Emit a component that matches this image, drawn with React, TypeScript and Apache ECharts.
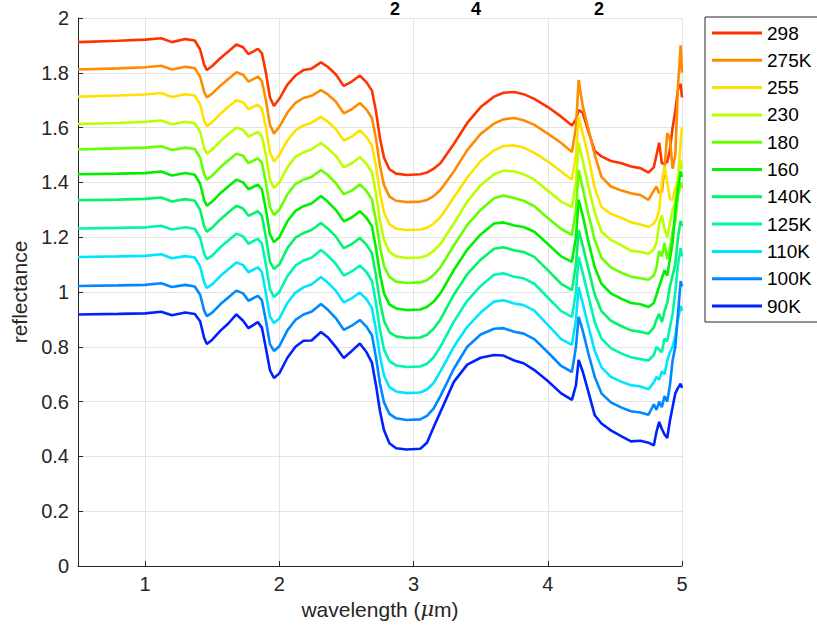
import React, { useEffect, useRef } from "react";
import * as echarts from "echarts";

const wavelength = [
  0.5, 0.8, 1.0, 1.12, 1.2, 1.3, 1.37, 1.41, 1.44, 1.46,
  1.5, 1.56, 1.62, 1.68, 1.73, 1.77, 1.84, 1.87, 1.9, 1.93,
  1.96, 2.0, 2.06, 2.12, 2.18, 2.24, 2.31, 2.36, 2.42, 2.48,
  2.54, 2.6, 2.65, 2.69, 2.72, 2.75, 2.78, 2.82, 2.87, 2.95,
  3.05, 3.1, 3.15, 3.2, 3.3, 3.4, 3.5, 3.6, 3.67, 3.75,
  3.82, 3.9, 4.0, 4.1, 4.18, 4.21, 4.23, 4.26, 4.3, 4.35,
  4.4, 4.47, 4.55, 4.62, 4.69, 4.75, 4.79, 4.81, 4.83, 4.85,
  4.87, 4.89, 4.91, 4.93, 4.95, 4.97, 4.99, 5.0,
];

const r298 = [
  1.912, 1.917, 1.921, 1.926, 1.912, 1.923, 1.918, 1.885, 1.83, 1.81,
  1.825, 1.853, 1.878, 1.903, 1.893, 1.868, 1.887, 1.872, 1.8, 1.71,
  1.679, 1.705, 1.757, 1.79, 1.81, 1.815, 1.838, 1.822, 1.795, 1.752,
  1.768, 1.79, 1.765, 1.735, 1.66, 1.56, 1.49, 1.448, 1.432, 1.427,
  1.43, 1.436, 1.45, 1.47, 1.54, 1.617, 1.675, 1.713, 1.727, 1.73,
  1.722, 1.705, 1.675, 1.64, 1.608, 1.63, 1.664, 1.655, 1.59, 1.515,
  1.495, 1.478, 1.47, 1.458, 1.452, 1.436, 1.455, 1.5, 1.545, 1.47,
  1.468, 1.475, 1.52, 1.6, 1.66, 1.74, 1.76, 1.71,
];
const r275 = [
  1.812, 1.816, 1.82, 1.826, 1.812, 1.822, 1.817, 1.785, 1.73, 1.71,
  1.724, 1.753, 1.777, 1.802, 1.793, 1.768, 1.786, 1.77, 1.7, 1.61,
  1.578, 1.603, 1.655, 1.69, 1.708, 1.716, 1.737, 1.722, 1.695, 1.652,
  1.667, 1.69, 1.665, 1.635, 1.56, 1.46, 1.39, 1.348, 1.333, 1.328,
  1.33, 1.336, 1.35, 1.372, 1.44, 1.518, 1.577, 1.615, 1.63, 1.635,
  1.627, 1.61, 1.578, 1.544, 1.511, 1.6, 1.774, 1.68, 1.6, 1.5,
  1.42, 1.385, 1.37, 1.36, 1.354, 1.336, 1.37, 1.385, 1.36, 1.365,
  1.45, 1.58, 1.56, 1.45, 1.5, 1.75, 1.9, 1.8,
];
const r255 = [
  1.713, 1.717, 1.721, 1.726, 1.712, 1.722, 1.717, 1.685, 1.625, 1.605,
  1.62, 1.65, 1.676, 1.7, 1.692, 1.667, 1.684, 1.668, 1.6, 1.51,
  1.476, 1.5, 1.553, 1.59, 1.608, 1.618, 1.639, 1.622, 1.595, 1.553,
  1.567, 1.59, 1.565, 1.535, 1.46, 1.36, 1.29, 1.247, 1.231, 1.226,
  1.228, 1.234, 1.25, 1.273, 1.345, 1.418, 1.478, 1.517, 1.533, 1.535,
  1.527, 1.508, 1.477, 1.44, 1.41, 1.5, 1.638, 1.58, 1.5, 1.38,
  1.31, 1.285, 1.27, 1.255, 1.246, 1.237, 1.25, 1.265, 1.3, 1.4,
  1.46, 1.4, 1.34, 1.336, 1.38, 1.41, 1.55, 1.6,
];
const r230 = [
  1.613, 1.617, 1.621, 1.626, 1.612, 1.621, 1.616, 1.585, 1.525, 1.505,
  1.52, 1.55, 1.576, 1.6, 1.592, 1.567, 1.584, 1.568, 1.5, 1.41,
  1.38, 1.4, 1.455, 1.493, 1.51, 1.52, 1.544, 1.525, 1.497, 1.455,
  1.47, 1.492, 1.467, 1.437, 1.36, 1.26, 1.19, 1.146, 1.13, 1.124,
  1.126, 1.133, 1.15, 1.175, 1.25, 1.33, 1.39, 1.43, 1.443, 1.44,
  1.43, 1.41, 1.37, 1.33, 1.31, 1.4, 1.545, 1.48, 1.39, 1.29,
  1.22, 1.19, 1.17, 1.15, 1.147, 1.14, 1.155, 1.18, 1.25, 1.28,
  1.23, 1.2, 1.25, 1.3, 1.33, 1.42, 1.48, 1.45,
];
const r180 = [
  1.52, 1.524, 1.527, 1.532, 1.518, 1.527, 1.522, 1.49, 1.43, 1.41,
  1.425, 1.455, 1.48, 1.505, 1.497, 1.47, 1.488, 1.472, 1.4, 1.31,
  1.281, 1.3, 1.356, 1.394, 1.41, 1.42, 1.445, 1.427, 1.398, 1.357,
  1.37, 1.393, 1.368, 1.338, 1.26, 1.165, 1.095, 1.055, 1.038, 1.033,
  1.035, 1.043, 1.062, 1.09, 1.17, 1.245, 1.3, 1.342, 1.352, 1.343,
  1.333, 1.313, 1.27, 1.23, 1.208, 1.3, 1.445, 1.38, 1.29, 1.19,
  1.125, 1.09, 1.07, 1.056, 1.05, 1.045, 1.06, 1.09, 1.15, 1.13,
  1.18, 1.12, 1.16, 1.22, 1.26, 1.35, 1.4, 1.38,
];
const r160 = [
  1.43, 1.432, 1.434, 1.44, 1.425, 1.434, 1.428, 1.395, 1.335, 1.315,
  1.33, 1.36, 1.385, 1.41, 1.4, 1.375, 1.392, 1.375, 1.3, 1.21,
  1.182, 1.2, 1.258, 1.296, 1.313, 1.323, 1.35, 1.33, 1.3, 1.258,
  1.272, 1.295, 1.27, 1.24, 1.16, 1.065, 0.995, 0.955, 0.94, 0.934,
  0.936, 0.945, 0.965, 0.995, 1.08, 1.155, 1.21, 1.25, 1.254, 1.243,
  1.237, 1.22, 1.175, 1.13, 1.11, 1.2, 1.336, 1.28, 1.19, 1.09,
  1.03, 0.995, 0.975, 0.96, 0.955, 0.945, 0.96, 0.99, 1.02, 1.05,
  1.08, 1.06, 1.12, 1.18, 1.3, 1.38, 1.44, 1.42,
];
const r140 = [
  1.335, 1.337, 1.34, 1.345, 1.33, 1.339, 1.333, 1.3, 1.24, 1.22,
  1.235, 1.265, 1.29, 1.315, 1.305, 1.278, 1.295, 1.278, 1.2, 1.11,
  1.084, 1.1, 1.16, 1.198, 1.215, 1.226, 1.252, 1.232, 1.203, 1.16,
  1.175, 1.197, 1.172, 1.142, 1.06, 0.965, 0.895, 0.853, 0.838, 0.832,
  0.834, 0.844, 0.866, 0.9, 0.99, 1.065, 1.118, 1.158, 1.163, 1.152,
  1.146, 1.128, 1.08, 1.03, 1.007, 1.1, 1.226, 1.17, 1.09, 0.99,
  0.93, 0.895, 0.875, 0.86, 0.855, 0.848, 0.87, 0.9, 0.92, 0.89,
  0.93, 0.96, 1.02, 1.06, 1.1, 1.2, 1.26, 1.24,
];
const r125 = [
  1.232, 1.234, 1.236, 1.242, 1.228, 1.236, 1.23, 1.198, 1.14, 1.12,
  1.133, 1.163, 1.188, 1.213, 1.203, 1.176, 1.194, 1.177, 1.1, 1.01,
  0.982, 1.0, 1.058, 1.096, 1.115, 1.125, 1.153, 1.133, 1.103, 1.06,
  1.075, 1.097, 1.072, 1.04, 0.96, 0.862, 0.79, 0.748, 0.732, 0.726,
  0.728, 0.738, 0.762, 0.8, 0.892, 0.968, 1.022, 1.063, 1.068, 1.056,
  1.05, 1.03, 0.98, 0.93, 0.909, 1.0, 1.128, 1.07, 0.99, 0.89,
  0.83, 0.795, 0.775, 0.762, 0.755, 0.75, 0.77, 0.8, 0.79, 0.78,
  0.83, 0.82, 0.87, 0.92, 1.0, 1.1, 1.16, 1.13,
];
const r110 = [
  1.128, 1.13, 1.132, 1.138, 1.123, 1.131, 1.126, 1.093, 1.035, 1.015,
  1.028, 1.058, 1.083, 1.108, 1.098, 1.072, 1.09, 1.073, 0.995, 0.91,
  0.887, 0.903, 0.96, 0.998, 1.017, 1.027, 1.055, 1.035, 1.005, 0.962,
  0.977, 0.998, 0.973, 0.942, 0.862, 0.765, 0.695, 0.653, 0.637, 0.631,
  0.633, 0.644, 0.668, 0.71, 0.8, 0.873, 0.925, 0.965, 0.97, 0.958,
  0.952, 0.932, 0.88, 0.828, 0.807, 0.9, 1.018, 0.96, 0.88, 0.785,
  0.725, 0.69, 0.672, 0.66, 0.655, 0.645, 0.67, 0.69, 0.68, 0.71,
  0.7, 0.75, 0.78, 0.8, 0.84, 0.9, 0.95, 0.93,
];
const r100 = [
  1.022, 1.024, 1.026, 1.032, 1.018, 1.026, 1.02, 0.99, 0.932, 0.912,
  0.925, 0.955, 0.98, 1.005, 0.995, 0.968, 0.986, 0.97, 0.895, 0.81,
  0.785, 0.802, 0.86, 0.898, 0.918, 0.928, 0.956, 0.936, 0.905, 0.862,
  0.877, 0.898, 0.873, 0.842, 0.762, 0.665, 0.597, 0.555, 0.539, 0.533,
  0.535, 0.548, 0.575, 0.62, 0.72, 0.8, 0.845, 0.866, 0.868, 0.855,
  0.848, 0.828, 0.78, 0.73, 0.708, 0.8, 0.909, 0.86, 0.78, 0.69,
  0.63, 0.597, 0.578, 0.565, 0.56, 0.552, 0.59, 0.57, 0.6, 0.58,
  0.62, 0.6, 0.66, 0.75, 0.8, 0.92, 1.04, 1.02,
];
const r90 = [
  0.918, 0.92, 0.922, 0.928, 0.915, 0.925, 0.92, 0.893, 0.832, 0.81,
  0.826, 0.858, 0.885, 0.918, 0.895, 0.868, 0.89, 0.87, 0.795, 0.715,
  0.686, 0.703, 0.76, 0.8, 0.822, 0.823, 0.854, 0.835, 0.8, 0.759,
  0.785, 0.812, 0.78, 0.742, 0.66, 0.565, 0.495, 0.448, 0.43, 0.425,
  0.428, 0.45, 0.507, 0.562, 0.672, 0.735, 0.76, 0.77, 0.768, 0.75,
  0.74, 0.715, 0.675, 0.63, 0.606, 0.66, 0.752, 0.71, 0.64, 0.55,
  0.52, 0.495, 0.473, 0.455, 0.457, 0.45, 0.44, 0.49, 0.526, 0.5,
  0.48, 0.467, 0.53, 0.58, 0.63, 0.65, 0.665, 0.65,
];

const seriesNames = ["298", "275K", "255", "230", "180", "160", "140K", "125K", "110K", "100K", "90K"];
const seriesValues = [r298, r275, r255, r230, r180, r160, r140, r125, r110, r100, r90];
const seriesColors = [
  "#ff3300", "#ff8c00", "#ffe100", "#bbff00", "#66ff00", "#00f000",
  "#00f56a", "#00f5b0", "#00e5ff", "#0088ff", "#0022ff",
];
const titleSubscripts = ["2", "4", "2"];

const FONT = "'Liberation Sans', Arial, Helvetica, sans-serif";
const AX = "#262626";

export default function App() {
  const ref = useRef<HTMLDivElement>(null);
  useEffect(() => {
    if (!ref.current) return;
    const chart = echarts.init(ref.current, undefined, { renderer: "svg" });
    const subX = [395, 476, 599];
    chart.setOption({
      animation: false,
      backgroundColor: "#ffffff",
      grid: { left: 78, right: 135, top: 18, bottom: 63, containLabel: false },
      xAxis: {
        type: "value",
        min: 0.5,
        max: 5,
        splitNumber: 5,
        name: "wavelength ({i|μ}m)",
        nameLocation: "middle",
        nameGap: 29,
        nameTextStyle: {
          fontSize: 21,
          color: AX,
          fontFamily: FONT,
          rich: { i: { fontStyle: "italic", fontSize: 21, color: AX, fontFamily: "'DejaVu Serif', serif" } },
        },
        axisLine: { show: true, onZero: false, lineStyle: { color: AX, width: 1 } },
        axisTick: { show: true, inside: true, length: 5, lineStyle: { color: AX } },
        axisLabel: {
          color: AX,
          fontSize: 20,
          fontFamily: FONT,
          margin: 8,
          formatter: (v: number) => (Math.abs(v - Math.round(v)) < 1e-9 ? String(Math.round(v)) : ""),
        },
        splitLine: { show: true, lineStyle: { color: "#e3e3e3", width: 1 } },
      },
      yAxis: {
        type: "value",
        min: 0,
        max: 2,
        interval: 0.2,
        name: "reflectance",
        nameLocation: "middle",
        nameGap: 47,
        nameTextStyle: { fontSize: 21, color: AX, fontFamily: FONT },
        axisLine: { show: true, onZero: false, lineStyle: { color: AX, width: 1 } },
        axisTick: { show: true, inside: true, length: 5, lineStyle: { color: AX } },
        axisLabel: { color: AX, fontSize: 20, fontFamily: FONT, margin: 9 },
        splitLine: { show: true, lineStyle: { color: "#e3e3e3", width: 1 } },
      },
      legend: {
        show: true,
        orient: "vertical",
        left: 705,
        top: 17,
        padding: [6.5, 24, 6.5, 7],
        itemWidth: 50,
        itemHeight: 3,
        itemGap: 8.3,
        icon: "rect",
        selectedMode: false,
        borderColor: AX,
        borderWidth: 1,
        backgroundColor: "#ffffff",
        textStyle: { fontSize: 19, color: "#000000", fontFamily: FONT, lineHeight: 19 },
        data: seriesNames,
      },
      graphic: titleSubscripts.map((t, i) => ({
        type: "text",
        x: subX[i],
        y: 9,
        style: {
          text: t,
          fontSize: 18,
          fontWeight: "bold",
          fontFamily: FONT,
          fill: "#000000",
          align: "center",
          verticalAlign: "middle",
        },
      })),
      series: seriesNames.map((name, k) => ({
        name,
        type: "line",
        showSymbol: false,
        symbol: "none",
        smooth: false,
        color: seriesColors[k],
        lineStyle: { width: 2.6, color: seriesColors[k] },
        data: wavelength.map((x, i) => [x, seriesValues[k][i]]),
      })),
    });
    return () => chart.dispose();
  }, []);
  return (
    <div
      ref={ref}
      style={{ position: "absolute", left: 0, top: 0, width: 817, height: 629 }}
    />
  );
}
